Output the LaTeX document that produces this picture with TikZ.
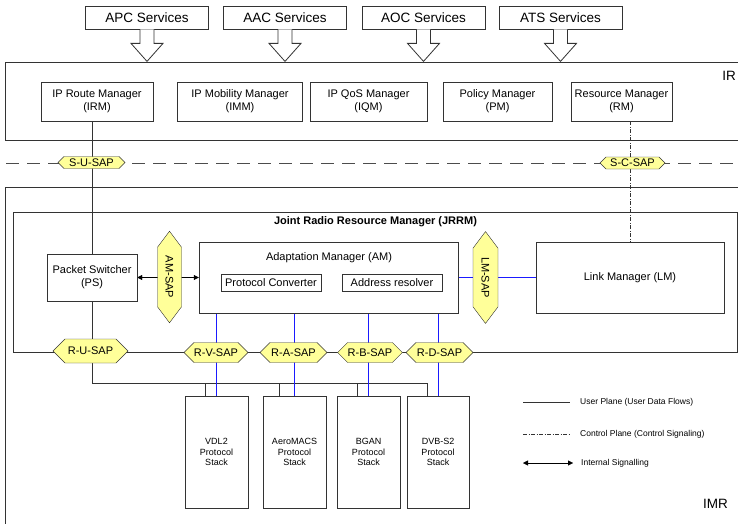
\documentclass[tikz,border=0pt]{standalone}
\usepackage{fontspec}
\setmainfont{Liberation Sans}
\usepackage{graphicx}
\usetikzlibrary{shapes.symbols,arrows.meta,calc}
\pgfdeclarelayer{bg}
\pgfsetlayers{bg,main}
\definecolor{sapyellow}{HTML}{FFFF99}
\definecolor{linegray}{HTML}{333333}
\definecolor{sigblue}{HTML}{1A1AFF}

\begin{document}
\begin{tikzpicture}[x=1pt,y=-1pt,
  line width=0.8pt,
  frame/.style={draw=linegray},
  svc/.style={draw=linegray, fill=white, minimum height=23pt, inner sep=0pt,
    font=\fontsize{13.5}{16}\selectfont},
  svcarrow/.style={draw=linegray, fill=white},
  mgr/.style={draw=linegray, fill=white, align=center, inner sep=0pt,
    minimum height=39pt, font=\fontsize{11}{13}\selectfont},
  box/.style={draw=linegray, fill=white, align=center, inner sep=0pt,
    font=\fontsize{11}{13}\selectfont},
  sap/.style={signal, signal to=east and west, signal pointer angle=90,
    draw=linegray, fill=sapyellow, inner sep=0pt,
    font=\fontsize{11}{13}\selectfont},
  vsap/.style={signal, signal to=north and south, signal pointer angle=74,
    draw=linegray, fill=sapyellow, inner sep=0pt,
    font=\fontsize{11}{13}\selectfont},
  stack/.style={draw=linegray, fill=white, align=center, inner sep=0pt,
    minimum width=63pt, minimum height=112pt,
    font=\fontsize{9}{10.5}\selectfont},
  user/.style={draw=linegray},
  ctrl/.style={draw=black!80, line width=0.7pt,
    dash pattern=on 4pt off 1.5pt on 1pt off 1.5pt},
  dashline/.style={draw=black!70, dash pattern=on 13pt off 8pt},
  rblue/.style={draw=sigblue, line width=0.8pt},
  intsig/.style={draw=black, {Triangle[length=5pt,width=5pt]}-{Triangle[length=5pt,width=5pt]}},
  legtext/.style={anchor=west, inner sep=0pt, font=\fontsize{8.5}{10}\selectfont},
  biglabel/.style={inner sep=0pt, font=\fontsize{13.5}{16}\selectfont}
]
\useasboundingbox (0,0) rectangle (738,524);

% ---- service boxes on top
\node[svc, minimum width=123pt] (apc) at (147,17.5) {APC Services};
\node[svc, minimum width=123pt] (aac) at (285,17.5) {AAC Services};
\node[svc, minimum width=123pt] (aoc) at (423.5,17.5) {AOC Services};
\node[svc, minimum width=123pt] (ats) at (560.5,17.5) {ATS Services};

% hollow arrows from each service down into IR
\foreach \s in {apc,aac,aoc,ats}{
  \draw[svcarrow] ($(\s.south)+(-7,0)$) -- ($(\s.south)+(-7,14)$)
    -- ($(\s.south)+(-16,14)$) -- ($(\s.south)+(0,32)$)
    -- ($(\s.south)+(16,14)$) -- ($(\s.south)+(7,14)$)
    -- ($(\s.south)+(7,0)$);
}

% ---- IR frame
\draw[frame] (745,62) -- (5,62) -- (5,140) -- (745,140);
\node[biglabel, anchor=west] (irlbl) at (722,75.5) {IR};

\node[mgr, minimum width=112pt] (irm) at (97,101.5) {IP Route Manager\\(IRM)};
\node[mgr, minimum width=125pt] (imm) at (240,101.5) {IP Mobility Manager\\(IMM)};
\node[mgr, minimum width=117pt] (iqm) at (368.5,101.5) {IP QoS Manager\\(IQM)};
\node[mgr, minimum width=109pt] (pm) at (497.5,101.5) {Policy Manager\\(PM)};
\node[mgr, minimum width=101pt] (rm) at (621.5,101.5) {Resource Manager\\(RM)};

% ---- IMR frame and JRRM
\draw[frame] (745,187) -- (5,187) -- (5,530);
\node[biglabel] (imrlbl) at (715.5,503.5) {IMR};

\begin{pgfonlayer}{bg}
  \draw[dashline] (6,163) -- (738,163);
  \draw[frame] (13,212) rectangle (737,352);
\end{pgfonlayer}
\node[inner sep=0pt, font=\fontsize{11}{13}\selectfont\bfseries] (jrrm) at (375.5,222)
  {Joint Radio Resource Manager (JRRM)};

\node[box, minimum width=90pt, minimum height=47pt] (ps) at (92,277.5) {Packet Switcher\\(PS)};
\node[box, minimum width=259pt, minimum height=71pt] (am) at (328.5,277.5) {};
\node[inner sep=0pt, font=\fontsize{11}{13}\selectfont] (amlbl) at (329,258) {Adaptation Manager (AM)};
\node[box, minimum width=100pt, minimum height=17pt] (pc) at (271,282.5) {Protocol Converter};
\node[box, minimum width=100pt, minimum height=17pt] (ar) at (392,282.5) {Address resolver};
\node[box, minimum width=188pt, minimum height=71pt] (lm) at (630,277.5) {Link Manager (LM)};

% ---- protocol stacks
\node[stack] (vdl2) at (216.5,452) {VDL2\\Protocol\\Stack};
\node[stack] (aero) at (294.5,452) {AeroMACS\\Protocol\\Stack};
\node[stack] (bgan) at (368.5,452) {BGAN\\Protocol\\Stack};
\node[stack, minimum width=62pt] (dvb) at (438,452) {DVB-S2\\Protocol\\Stack};

% ---- connectors (kept beneath the SAP hexagons)
\coordinate (busy) at (0,383);
\begin{pgfonlayer}{bg}
  % user plane
  \draw[user] (ps.north |- irm.south) -- (ps.north);
  \draw[user] (ps.south) -- (ps.south |- busy) -| ($(dvb.north)+(-11,0)$);
  \draw[user] ($(vdl2.north)+(-11.5,0)$) -- ++(0,-13);
  \draw[user] ($(aero.north)+(-15.5,0)$) -- ++(0,-13);
  \draw[user] ($(bgan.north)+(-11.5,0)$) -- ++(0,-13);
  % control plane
  \draw[ctrl] (lm.north |- rm.south) -- (lm.north);
  % radio access links
  \draw[rblue] (vdl2.north |- am.south) -- (vdl2.north);
  \draw[rblue] (aero.north |- am.south) -- (aero.north);
  \draw[rblue] (bgan.north |- am.south) -- (bgan.north);
  \draw[rblue] (dvb.north |- am.south) -- (dvb.north);
  \draw[rblue] (am.east) -- (lm.west);
  % internal signalling
  \draw[intsig] (ps.east) -- (am.west);
\end{pgfonlayer}

% ---- service access points
\node[sap, minimum width=67pt, minimum height=12pt] (susap) at (91.5,162.5) {S-U-SAP};
\node[sap, minimum width=65pt, minimum height=12pt] (scsap) at (632.5,163) {S-C-SAP};
\node[vsap, minimum width=24pt, minimum height=70pt] (amsap) at (169.5,277) {\rotatebox{-90}{AM-SAP}};
\node[vsap, minimum width=25pt, minimum height=69pt] (lmsap) at (485.5,277.5) {\rotatebox{-90}{LM-SAP}};
\node[sap, minimum width=75pt, minimum height=24pt] (rusap) at (90.5,351) {R-U-SAP};
\node[sap, minimum width=64pt, minimum height=20pt] (rvsap) at (216,352.5) {R-V-SAP};
\node[sap, minimum width=67pt, minimum height=20pt] (rasap) at (293.5,352.5) {R-A-SAP};
\node[sap, minimum width=60pt, minimum height=20pt] (rbsap) at (370,352.5) {R-B-SAP};
\node[sap, minimum width=67pt, minimum height=20pt] (rdsap) at (439.5,352.5) {R-D-SAP};

% ---- legend
\coordinate (lu1) at (523,402); \coordinate (lu2) at (570,402);
\draw[user] (lu1) -- (lu2);
\node[legtext] (lgu) at (580,402) {User Plane (User Data Flows)};
\coordinate (lc1) at (523,434); \coordinate (lc2) at (570,434);
\draw[ctrl] (lc1) -- (lc2);
\node[legtext] (lgc) at (580,434) {Control Plane (Control Signaling)};
\coordinate (li1) at (523,463); \coordinate (li2) at (573,463);
\draw[intsig] (li1) -- (li2);
\node[legtext] (lgi) at (581,463) {Internal Signalling};
\end{tikzpicture}
\end{document}
